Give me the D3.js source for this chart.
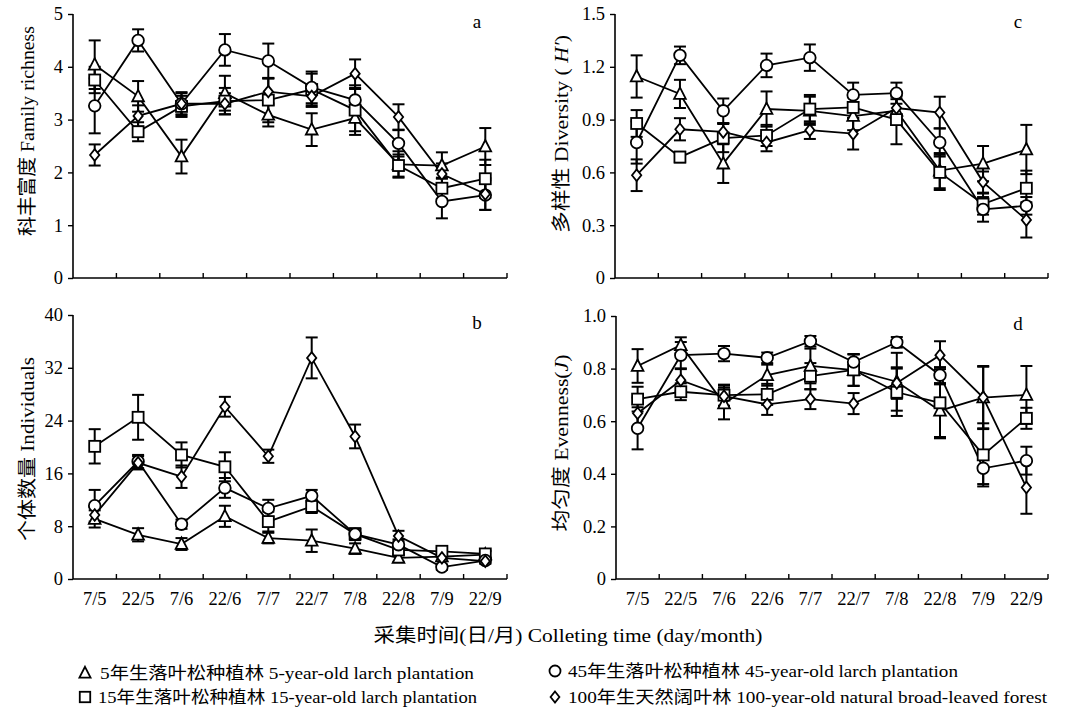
<!DOCTYPE html>
<html>
<head>
<meta charset="utf-8">
<script src="https://cdn.jsdelivr.net/npm/d3@7/dist/d3.min.js"></script>
<style>
  body { margin: 0; background: #fff; }
  svg { display: block; }
  text { font-family: "Liberation Serif", "Times New Roman", "Noto Sans CJK SC", serif; fill: #000; }
</style>
</head>
<body>
<svg id="chart" width="1072" height="711"></svg>
<script>
// ---------- DATA ----------
const dates = ["7/5","22/5","7/6","22/6","7/7","22/7","7/8","22/8","7/9","22/9"];
const seriesKeys = ["y5","y15","y45","y100"];
const seriesSymbols = { y5: "triangle", y15: "square", y45: "circle", y100: "diamond" };
const legendLabels = {
  y5: "5年生落叶松种植林  5-year-old larch plantation",
  y15: "15年生落叶松种植林 15-year-old larch plantation",
  y45: "45年生落叶松种植林 45-year-old larch plantation",
  y100: "100年生天然阔叶林 100-year-old natural broad-leaved forest"
};

// Panel a: Family richness
const richY5   = [4.04, 3.44, 2.30, 3.50, 3.09, 2.81, 3.03, 2.15, 2.13, 2.49];
const richY5E  = [0.46, 0.29, 0.32, 0.33, 0.22, 0.31, 0.32, 0.25, 0.25, 0.35];
const richY15  = [3.75, 2.77, 3.25, 3.35, 3.37, 3.57, 3.18, 2.13, 1.70, 1.88];
const richY15E = [0.25, 0.18, 0.20, 0.25, 0.42, 0.30, 0.40, 0.21, 0.20, 0.36];
const richY45  = [3.26, 4.50, 3.30, 4.32, 4.11, 3.61, 3.37, 2.55, 1.45, 1.57];
const richY45E = [0.52, 0.21, 0.22, 0.30, 0.33, 0.30, 0.28, 0.25, 0.32, 0.28];
const richY100 = [2.33, 3.07, 3.30, 3.30, 3.53, 3.44, 3.87, 3.05, 1.97, 1.59];
const richY100E= [0.20, 0.20, 0.20, 0.20, 0.25, 0.20, 0.27, 0.24, 0.20, 0.30];

// Panel b: Individuals
const indY5   = [9.1, 6.7, 5.3, 9.5, 6.2, 5.8, 4.6, 3.2, 3.4, 3.7];
const indY5E  = [1.3, 1.0, 0.9, 1.6, 0.8, 1.7, 0.8, 0.6, 0.6, 0.5];
const indY15  = [20.1, 24.5, 18.8, 17.0, 8.7, 11.0, 6.8, 4.4, 4.2, 3.8];
const indY15E = [2.6, 3.4, 1.9, 2.2, 1.5, 1.0, 0.9, 0.8, 0.5, 0.5];
const indY45  = [11.1, 17.8, 8.3, 13.8, 10.7, 12.6, 6.8, 5.2, 1.8, 2.8];
const indY45E = [2.4, 1.0, 0.7, 1.5, 1.3, 0.9, 0.7, 0.8, 0.4, 0.4];
const indY100 = [9.7, 17.6, 15.5, 26.1, 18.6, 33.5, 21.6, 6.5, 3.2, 2.7];
const indY100E= [1.2, 1.0, 1.7, 1.5, 1.0, 3.1, 1.8, 0.8, 0.5, 0.4];

// Panel c: Diversity (H')
const divY5   = [1.145, 1.046, 0.65, 0.96, 0.95, 0.92, 0.95, 0.61, 0.65, 0.73];
const divY5E  = [0.12, 0.08, 0.11, 0.10, 0.08, 0.08, 0.08, 0.10, 0.10, 0.14];
const divY15  = [0.878, 0.687, 0.795, 0.81, 0.96, 0.969, 0.90, 0.60, 0.42, 0.51];
const divY15E = [0.076, 0.03, 0.08, 0.06, 0.08, 0.06, 0.14, 0.10, 0.06, 0.10];
const divY45  = [0.77, 1.265, 0.95, 1.208, 1.252, 1.04, 1.05, 0.77, 0.39, 0.41];
const divY45E = [0.12, 0.05, 0.07, 0.067, 0.075, 0.07, 0.06, 0.08, 0.07, 0.05];
const divY100 = [0.584, 0.845, 0.83, 0.77, 0.84, 0.82, 0.966, 0.94, 0.545, 0.33];
const divY100E= [0.09, 0.063, 0.05, 0.05, 0.05, 0.09, 0.05, 0.09, 0.06, 0.10];

// Panel d: Evenness (J)
const evY5   = [0.81, 0.889, 0.667, 0.775, 0.81, 0.794, 0.75, 0.64, 0.69, 0.70];
const evY5E  = [0.064, 0.03, 0.06, 0.04, 0.066, 0.06, 0.11, 0.10, 0.12, 0.11];
const evY15  = [0.684, 0.712, 0.699, 0.702, 0.771, 0.795, 0.71, 0.67, 0.472, 0.611];
const evY15E = [0.047, 0.032, 0.04, 0.04, 0.05, 0.06, 0.09, 0.135, 0.12, 0.04];
const evY45  = [0.573, 0.851, 0.857, 0.841, 0.904, 0.825, 0.90, 0.775, 0.421, 0.45];
const evY45E = [0.08, 0.05, 0.029, 0.02, 0.02, 0.03, 0.02, 0.03, 0.06, 0.053];
const evY100 = [0.63, 0.756, 0.695, 0.664, 0.684, 0.667, 0.745, 0.851, 0.69, 0.348];
const evY100E= [0.06, 0.042, 0.04, 0.04, 0.038, 0.04, 0.06, 0.053, 0.117, 0.10];

const yTicksA = [0, 1, 2, 3, 4, 5];
const yTicksB = [0, 8, 16, 24, 32, 40];
const yTicksC = [0, 0.3, 0.6, 0.9, 1.2, 1.5];
const yTicksD = [0, 0.2, 0.4, 0.6, 0.8, 1.0];

const panels = [
  { id: "a", x0: 73, x1: 507, y0: 14, y1: 278, max: 5, ticks: yTicksA, fmt: d => String(d), showX: false,
    title: [{t: "科丰富度 Family richness"}], titleX: 27, titleY: 131, titleLen: 210,
    vals: { y5: richY5, y15: richY15, y45: richY45, y100: richY100 },
    errs: { y5: richY5E, y15: richY15E, y45: richY45E, y100: richY100E } },
  { id: "b", x0: 73, x1: 507, y0: 315, y1: 579, max: 40, ticks: yTicksB, fmt: d => String(d), showX: true,
    title: [{t: "个体数量 Individuals"}], titleX: 27, titleY: 449, titleLen: 184,
    vals: { y5: indY5, y15: indY15, y45: indY45, y100: indY100 },
    errs: { y5: indY5E, y15: indY15E, y45: indY45E, y100: indY100E } },
  { id: "c", x0: 615, x1: 1048, y0: 14, y1: 278, max: 1.5, ticks: yTicksC, fmt: d => d === 0 ? "0" : d3.format(".1f")(d), showX: false,
    title: [{t: "多样性 Diversity ( "}, {t: "H′", italic: true}, {t: ")"}], titleX: 561, titleY: 134, titleLen: 198,
    vals: { y5: divY5, y15: divY15, y45: divY45, y100: divY100 },
    errs: { y5: divY5E, y15: divY15E, y45: divY45E, y100: divY100E } },
  { id: "d", x0: 616, x1: 1048, y0: 316, y1: 579, max: 1.0, ticks: yTicksD, fmt: d => d === 0 ? "0" : d3.format(".1f")(d), showX: true,
    title: [{t: "均匀度 Evenness("}, {t: "J", italic: true}, {t: ")"}], titleX: 561, titleY: 443, titleLen: 177,
    vals: { y5: evY5, y15: evY15, y45: evY45, y100: evY100 },
    errs: { y5: evY5E, y15: evY15E, y45: evY45E, y100: evY100E } }
];

const svg = d3.select("#chart");

function drawSymbol(g, type, cx, cy, scale) {
  const s = scale || 1;
  if (type === "circle") {
    g.append("circle").attr("cx", cx).attr("cy", cy).attr("r", 5.8 * s)
      .attr("fill", "#fff").attr("stroke", "#000").attr("stroke-width", 1.8);
  } else if (type === "square") {
    const h = 5.5 * s;
    g.append("rect").attr("x", cx - h).attr("y", cy - h).attr("width", 2 * h).attr("height", 2 * h)
      .attr("fill", "#fff").attr("stroke", "#000").attr("stroke-width", 1.8);
  } else if (type === "triangle") {
    const h = 6.5 * s;
    g.append("path").attr("d", `M${cx},${cy - h}L${cx + h * 0.9},${cy + h * 0.75}L${cx - h * 0.9},${cy + h * 0.75}Z`)
      .attr("fill", "#fff").attr("stroke", "#000").attr("stroke-width", 1.8);
  } else if (type === "diamond") {
    const h = 5.8 * s;
    g.append("path").attr("d", `M${cx},${cy - h}L${cx + h * 0.8},${cy}L${cx},${cy + h}L${cx - h * 0.8},${cy}Z`)
      .attr("fill", "#fff").attr("stroke", "#000").attr("stroke-width", 1.8);
  }
}

panels.forEach(p => {
  const x = d3.scaleBand().domain(dates).range([p.x0, p.x1]).padding(0);
  const y = d3.scaleLinear().domain([0, p.max]).range([p.y1, p.y0]);
  const cx = d => x(d) + x.bandwidth() / 2;
  const g = svg.append("g");

  // y axis
  const yAxis = d3.axisLeft(y).tickValues(p.ticks).tickFormat(p.fmt).tickSize(5).tickPadding(5);
  const ya = g.append("g").attr("transform", `translate(${p.x0},0)`).call(yAxis);
  ya.select(".domain").attr("stroke-width", 1.6).attr("d", `M0,${p.y0}V${p.y1}`);
  ya.selectAll(".tick line").attr("stroke-width", 1.4);
  ya.selectAll(".tick text").style("font-size", "18.5px").style("font-family", "'Liberation Serif', serif");

  // x axis line
  g.append("line").attr("x1", p.x0).attr("x2", p.x1).attr("y1", p.y1).attr("y2", p.y1)
    .attr("stroke", "#000").attr("stroke-width", 1.6);
  // x ticks at band edges (inward)
  const edges = dates.map(d => x(d)).concat([p.x1]);
  g.selectAll(".xt").data(edges.slice(1)).join("line")
    .attr("x1", d => d).attr("x2", d => d).attr("y1", p.y1).attr("y2", p.y1 - 5)
    .attr("stroke", "#000").attr("stroke-width", 1.4);
  if (p.showX) {
    g.selectAll(".xl").data(dates).join("text")
      .attr("x", d => cx(d)).attr("y", p.y1 + 26)
      .attr("text-anchor", "middle").style("font-size", "18.5px")
      .text(d => d);
  }

  // panel letter
  g.append("text").attr("x", p.x1 - 30).attr("y", p.y0 + 14).attr("text-anchor", "middle")
    .style("font-size", "19px").text(p.id);

  // y title
  const tt = g.append("text")
    .attr("transform", `translate(${p.titleX},${p.titleY}) rotate(-90)`)
    .attr("text-anchor", "middle").attr("dominant-baseline", "central")
    .attr("textLength", p.titleLen).attr("lengthAdjust", "spacingAndGlyphs")
    .style("font-size", "19px");
  p.title.forEach(part => {
    tt.append("tspan").style("font-style", part.italic ? "italic" : "normal").text(part.t);
  });

  // lines
  const line = d3.line().x((v, i) => cx(dates[i])).y(v => y(v));
  seriesKeys.forEach(k => {
    g.append("path").datum(p.vals[k]).attr("d", line)
      .attr("fill", "none").attr("stroke", "#000").attr("stroke-width", 1.8);
  });
  // error bars
  seriesKeys.forEach(k => {
    const eg = g.append("g");
    p.vals[k].forEach((v, i) => {
      const e = p.errs[k][i];
      const xx = cx(dates[i]);
      eg.append("line").attr("x1", xx).attr("x2", xx).attr("y1", y(v - e)).attr("y2", y(v + e))
        .attr("stroke", "#000").attr("stroke-width", 2);
      [v - e, v + e].forEach(vv => {
        eg.append("line").attr("x1", xx - 6).attr("x2", xx + 6).attr("y1", y(vv)).attr("y2", y(vv))
          .attr("stroke", "#000").attr("stroke-width", 2);
      });
    });
  });
  // markers
  seriesKeys.forEach(k => {
    const mg = g.append("g");
    p.vals[k].forEach((v, i) => drawSymbol(mg, seriesSymbols[k], cx(dates[i]), y(v)));
  });
});

// x axis title
svg.append("text").attr("x", 568).attr("y", 642).attr("text-anchor", "middle")
  .attr("textLength", 389).attr("lengthAdjust", "spacingAndGlyphs")
  .style("font-size", "19px")
  .text("采集时间(日/月)   Colleting time (day/month)");

// legend
const legendPos = [
  { k: "y5", x: 85, y: 673, tx: 100, len: 374 },
  { k: "y15", x: 85, y: 697, tx: 98, len: 379 },
  { k: "y45", x: 555, y: 671, tx: 568, len: 390 },
  { k: "y100", x: 555, y: 697, tx: 568, len: 479 }
];
legendPos.forEach(l => {
  const lg = svg.append("g");
  drawSymbol(lg, seriesSymbols[l.k], l.x, l.y, 0.95);
  lg.append("text").attr("x", l.tx).attr("y", l.y).attr("dominant-baseline", "central")
    .attr("textLength", l.len).attr("lengthAdjust", "spacingAndGlyphs")
    .style("font-size", "17px").text(legendLabels[l.k]);
});
</script>
</body>
</html>
